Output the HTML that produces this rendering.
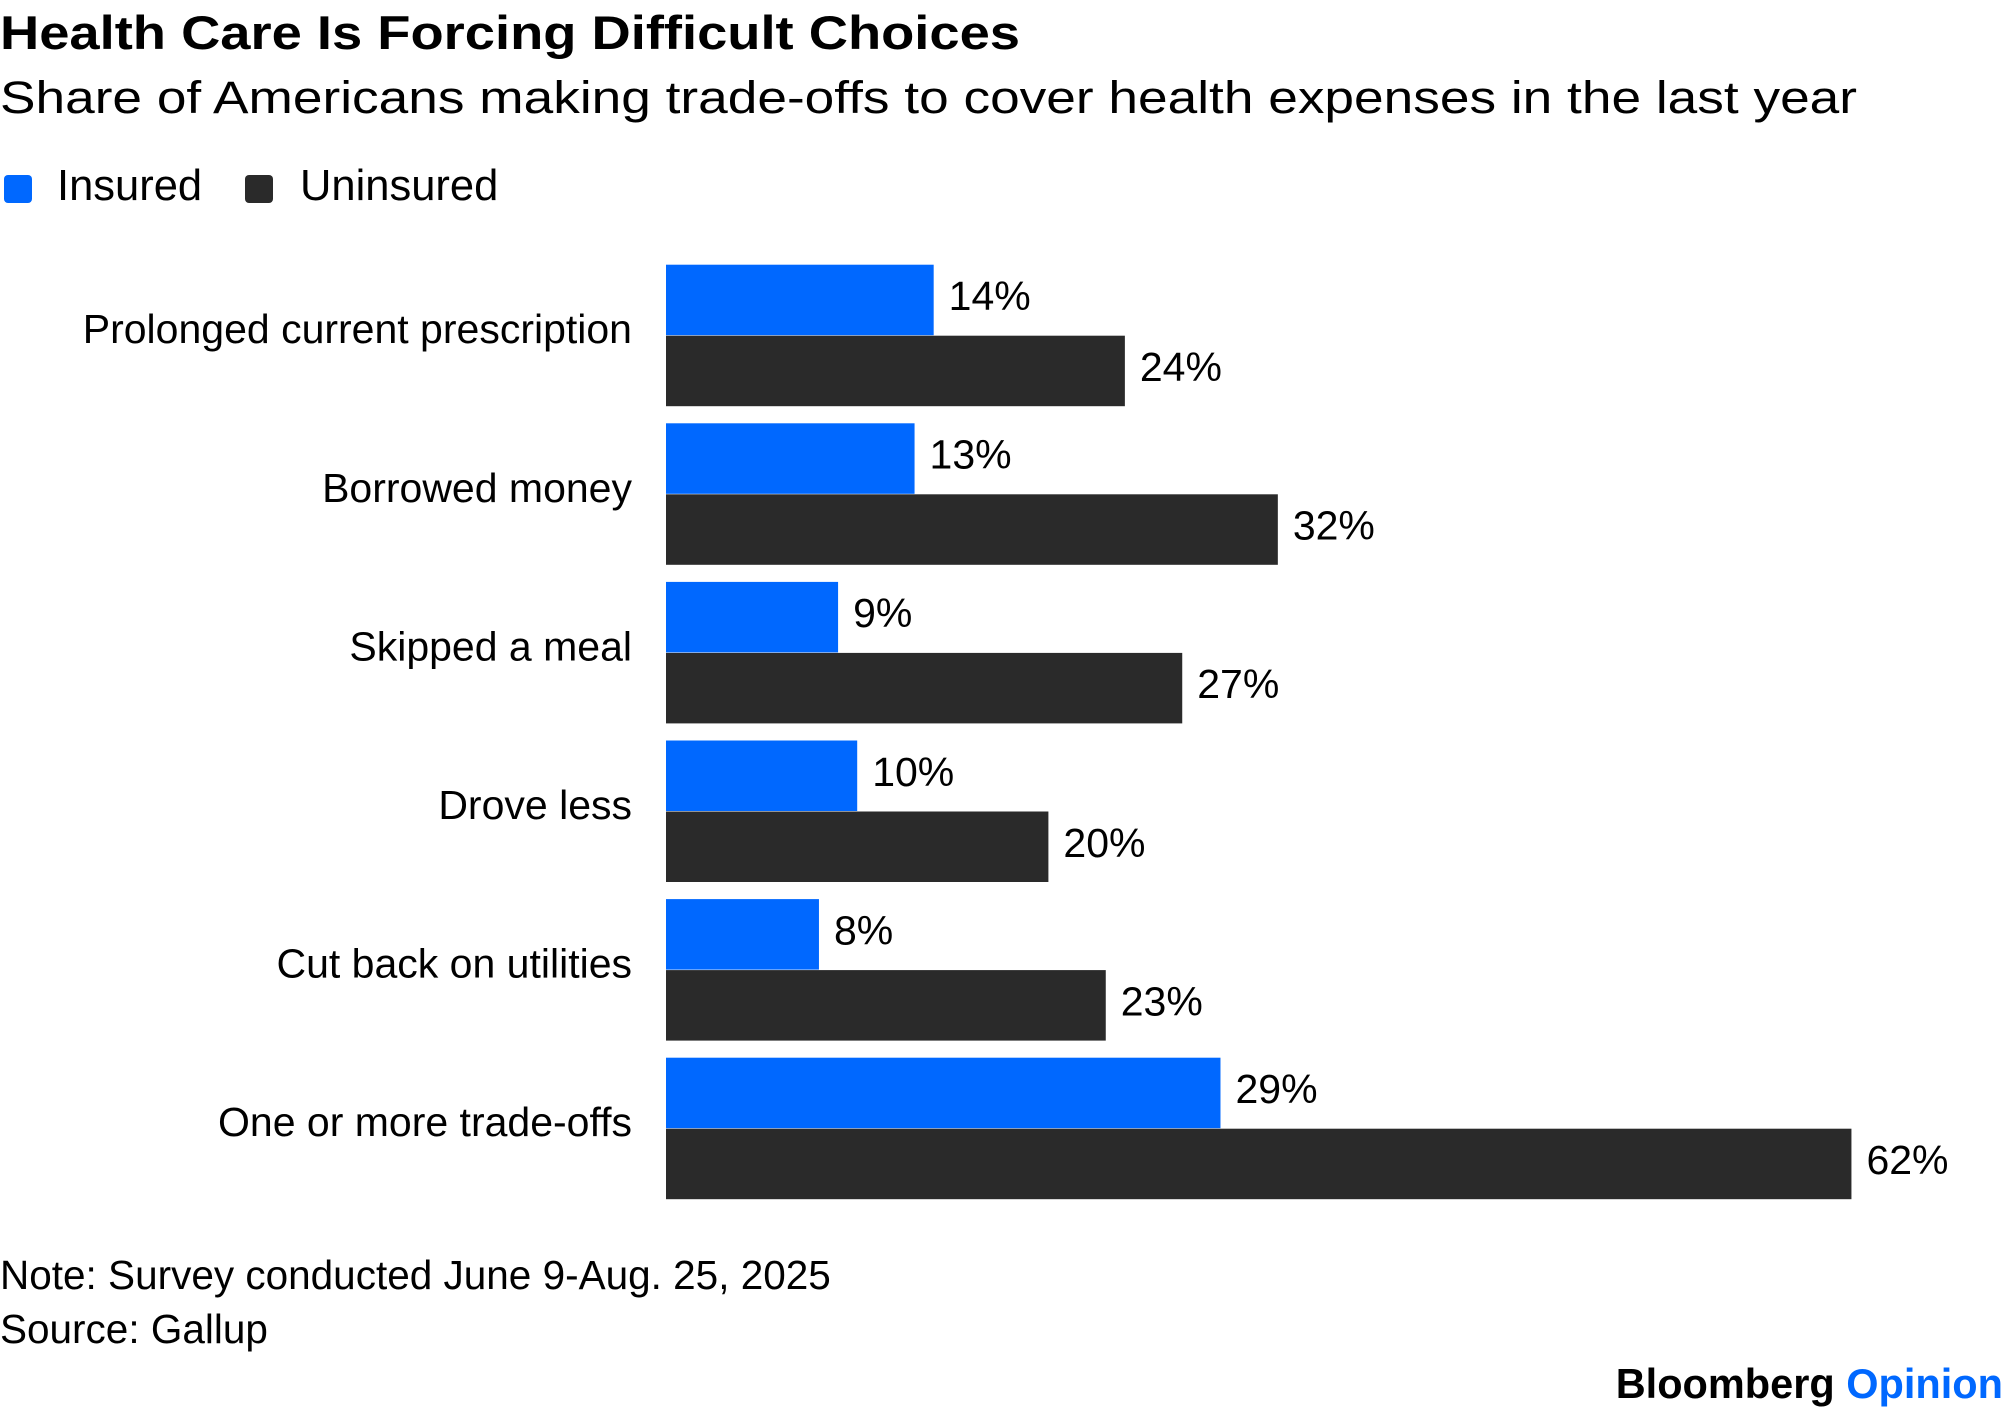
<!DOCTYPE html>
<html><head><meta charset="utf-8"><style>
html,body{margin:0;padding:0;background:#fff;}
svg{display:block;font-family:"Liberation Sans",sans-serif;}
</style></head><body>
<svg id="chart" width="2005" height="1413" viewBox="0 0 2005 1413">
<text x="0" y="49" font-size="47" font-weight="bold" textLength="1020" lengthAdjust="spacingAndGlyphs" fill="#000">Health Care Is Forcing Difficult Choices</text>
<text x="0" y="113" font-size="45" textLength="1857" lengthAdjust="spacingAndGlyphs" fill="#000">Share of Americans making trade-offs to cover health expenses in the last year</text>
<g>
<rect x="4" y="175" width="28" height="28" rx="4" fill="#0068ff"/>
<text x="57" y="200" font-size="43.5" fill="#000">Insured</text>
<rect x="245" y="175" width="28" height="28" rx="4" fill="#2a2a2a"/>
<text x="300" y="200" font-size="43.5" fill="#000">Uninsured</text>
</g>
<g id="bars"></g>
<text x="0" y="1289" font-size="40.5" fill="#000">Note: Survey conducted June 9-Aug. 25, 2025</text>
<text x="0" y="1343" font-size="40.5" fill="#000">Source: Gallup</text>
<text x="2003" y="1398" font-size="41.5" font-weight="bold" text-anchor="end"><tspan fill="#000">Bloomberg </tspan><tspan fill="#0068ff">Opinion</tspan></text>
</svg>
<script>
const categories = ["Prolonged current prescription","Borrowed money","Skipped a meal","Drove less","Cut back on utilities","One or more trade-offs"];
const insured = [14,13,9,10,8,29];
const uninsured = [24,32,27,20,23,62];
const x0 = 666, perPct = 19.12;
const xScale = v => x0 + v * perPct;
const groupTop = i => 264.7 + 158.6 * i;
const barH = 70.5;
const ns = "http://www.w3.org/2000/svg";
const g = document.getElementById("bars");
function mk(tag, attrs){const e=document.createElementNS(ns,tag);for(const k in attrs)e.setAttribute(k,attrs[k]);return e;}
categories.forEach((c,i)=>{
  const t = groupTop(i);
  const lbl = mk("text",{x:632,y:t+barH+8,"font-size":41,"text-anchor":"end",fill:"#000"});
  lbl.textContent = c;
  
  
  g.appendChild(lbl);
  [[insured[i],"#0068ff",t,"insured"],[uninsured[i],"#2a2a2a",t+barH+0.5,"uninsured"]].forEach(([v,col,y,s])=>{
    const r = mk("rect",{x:x0,y:y,width:xScale(v)-x0,height:barH,fill:col});
    
    
    g.appendChild(r);
    const tv = mk("text",{x:xScale(v)+15,y:y+barH/2+10,"font-size":41,fill:"#000"});
    tv.textContent = v + "%";
    
    
    g.appendChild(tv);
  });
});
</script>
</body></html>
